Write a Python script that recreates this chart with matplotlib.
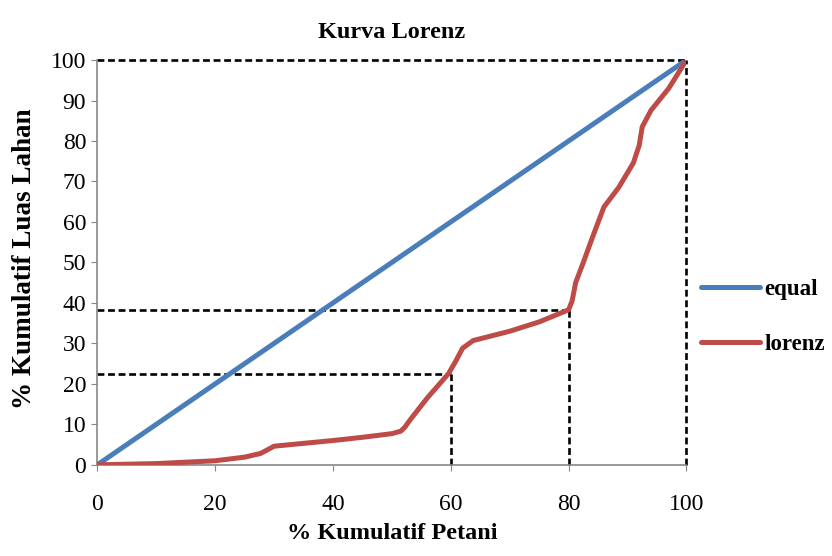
import matplotlib
matplotlib.use("Agg")
import matplotlib.pyplot as plt

# data
equal_x = [0, 100]
equal_y = [0, 100]

lorenz_x = [0, 10, 20, 25, 27.7, 29, 30, 35, 40, 45, 50, 51.5, 52.2, 53.2, 56, 59.6,
            60.8, 62, 63.8, 70, 75, 80, 80.6, 81.2, 82.5, 84, 86, 88.5, 91, 92, 92.5,
            94, 97, 100]
lorenz_y = [0, 0.3, 1.0, 1.9, 2.8, 3.8, 4.6, 5.3, 6.0, 6.8, 7.7, 8.3, 9.3, 11.3, 16.5, 22.5,
            25.5, 28.8, 30.7, 33.0, 35.3, 38.3, 40.5, 45.0, 50.0, 56.0, 63.7, 68.5, 74.6, 79, 83.5,
            87.6, 93, 100]

# reference guide points (x, y)
guide_x = [60, 80, 100]
guide_y = [22.5, 38.3, 100]

xticks = [0, 20, 40, 60, 80, 100]
yticks = list(range(0, 101, 10))

plt.rcParams['font.family'] = ['Liberation Serif', 'DejaVu Serif']

fig = plt.figure(figsize=(8.32, 5.56), dpi=100)
ax = fig.add_axes([0.117, 0.164, 0.708, 0.728])

for gx, gy in zip(guide_x, guide_y):
    ax.plot([0, gx], [gy, gy], color='black', linestyle=(0, (2.6, 1.4)), linewidth=1.9,
            zorder=1, clip_on=False)
    ax.plot([gx, gx], [0, gy], color='black', linestyle=(0, (2.6, 1.4)), linewidth=1.9,
            zorder=1, clip_on=False)

ax.plot(equal_x, equal_y, color='#4A7EBB', linewidth=3.6, label='equal', zorder=3,
        solid_capstyle='round')
ax.plot(lorenz_x, lorenz_y, color='#BE4B48', linewidth=3.6, label='lorenz', zorder=3,
        solid_capstyle='round', solid_joinstyle='round')

ax.set_xlim(0, 100)
ax.set_ylim(0, 100)
ax.set_xticks(xticks)
ax.set_yticks(yticks)
ax.tick_params(labelsize=17, direction='out', length=4, color='#888888', pad=4)
ax.tick_params(axis='x', pad=17)
for s in ['top', 'right']:
    ax.spines[s].set_visible(False)
for s in ['left', 'bottom']:
    ax.spines[s].set_color('#888888')
    ax.spines[s].set_linewidth(1.2)

ax.set_title('Kurva Lorenz', fontsize=17.5, fontweight='bold', pad=16)
ax.set_xlabel('% Kumulatif Petani', fontsize=17.5, fontweight='bold', labelpad=6)
ax.set_ylabel('% Kumulatif Luas Lahan', fontsize=19.5, fontweight='bold')
ax.yaxis.set_label_coords(-0.103, 0.51)

fig.legend(loc='center left', bbox_to_anchor=(0.842, 0.43), frameon=False, borderpad=0,
           borderaxespad=0, prop={'size': 16.5, 'weight': 'bold'}, handlelength=2.6,
           handletextpad=0.2, labelspacing=1.45)

fig.savefig('out.png', dpi=100)
